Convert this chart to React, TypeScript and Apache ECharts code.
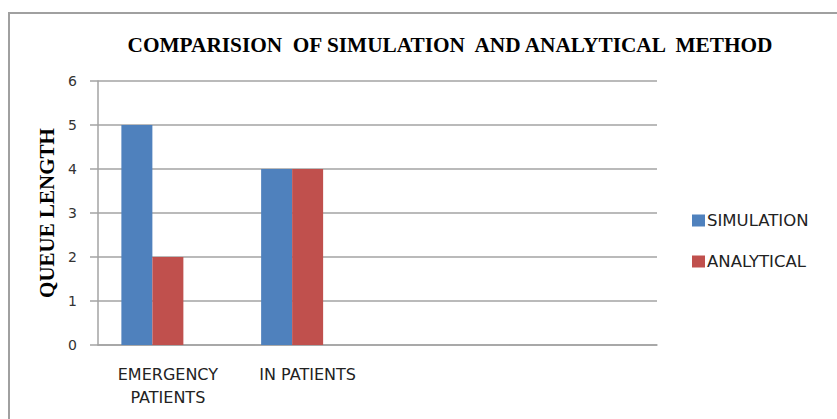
import React, { useEffect, useRef } from "react";
import * as echarts from "echarts";

const categories = ["EMERGENCY\nPATIENTS", "IN PATIENTS", "", ""];
const simulation: (number | string)[] = [5, 4, "-", "-"];
const analytical: (number | string)[] = [2, 4, "-", "-"];
const series3: (number | string)[] = ["-", "-", "-", "-"];
const yTicks = { min: 0, max: 6, interval: 1 };

export default function App() {
  const ref = useRef<HTMLDivElement>(null);
  useEffect(() => {
    if (!ref.current) return;
    const chart = echarts.init(ref.current, null, { renderer: "svg" });
    const gray = "#a3a3a3";
    chart.setOption({
      animation: false,
      backgroundColor: "#ffffff",
      title: {
        text: "COMPARISION  OF SIMULATION  AND ANALYTICAL  METHOD",
        left: 445,
        top: 29,
        textAlign: "center",
        textStyle: {
          fontFamily: "Liberation Serif",
          fontWeight: "bold",
          fontSize: 21.3,
          color: "#000",
        },
      },
      graphic: [
        {
          type: "rect",
          shape: { x: 9, y: 13, width: 900, height: 500 },
          style: { fill: "none", stroke: "#a0a0a0", lineWidth: 2 },
          silent: true,
        },
      ],
      legend: {
        orient: "vertical",
        left: 692,
        top: 212,
        padding: 0,
        itemWidth: 13,
        itemHeight: 12,
        itemGap: 24,
        icon: "rect",
        data: ["SIMULATION", "ANALYTICAL"],
        textStyle: { fontFamily: "DejaVu Sans", fontSize: 16.5, color: "#222", padding: [0, 0, 0, -3] },
      },
      grid: { left: 98, right: 180, top: 81, bottom: 74 },
      xAxis: {
        type: "category",
        data: categories,
        axisLine: { lineStyle: { color: gray, width: 1.5 } },
        axisTick: { show: false },
        axisLabel: {
          fontFamily: "DejaVu Sans",
          fontSize: 16,
          color: "#222",
          margin: 18,
          lineHeight: 23,
          interval: 0,
        },
      },
      yAxis: {
        type: "value",
        min: yTicks.min,
        max: yTicks.max,
        interval: yTicks.interval,
        name: "QUEUE LENGTH",
        nameLocation: "middle",
        nameGap: 36,
        nameTextStyle: {
          fontFamily: "Liberation Serif",
          fontWeight: "bold",
          fontSize: 21,
          color: "#000",
        },
        axisLine: { show: true, lineStyle: { color: gray, width: 1.5 } },
        axisTick: { show: true, length: 8, lineStyle: { color: gray, width: 1.5 } },
        axisLabel: { fontFamily: "DejaVu Sans", fontSize: 14, color: "#333", margin: 21 },
        splitLine: { lineStyle: { color: gray, width: 1.5 } },
      },
      series: [
        {
          name: "SIMULATION",
          type: "bar",
          data: simulation,
          barWidth: 31,
          barGap: "0%",
          itemStyle: { color: "#4f81bd" },
        },
        {
          name: "ANALYTICAL",
          type: "bar",
          data: analytical,
          barWidth: 31,
          barGap: "0%",
          itemStyle: { color: "#c0504d" },
        },
        {
          name: "Series3",
          type: "bar",
          data: series3,
          barWidth: 31,
          barGap: "0%",
          itemStyle: { color: "#9bbb59" },
        },
      ],
    });
    return () => chart.dispose();
  }, []);
  return <div ref={ref} style={{ width: 837, height: 419, position: "absolute", left: 0, top: 0 }} />;
}
